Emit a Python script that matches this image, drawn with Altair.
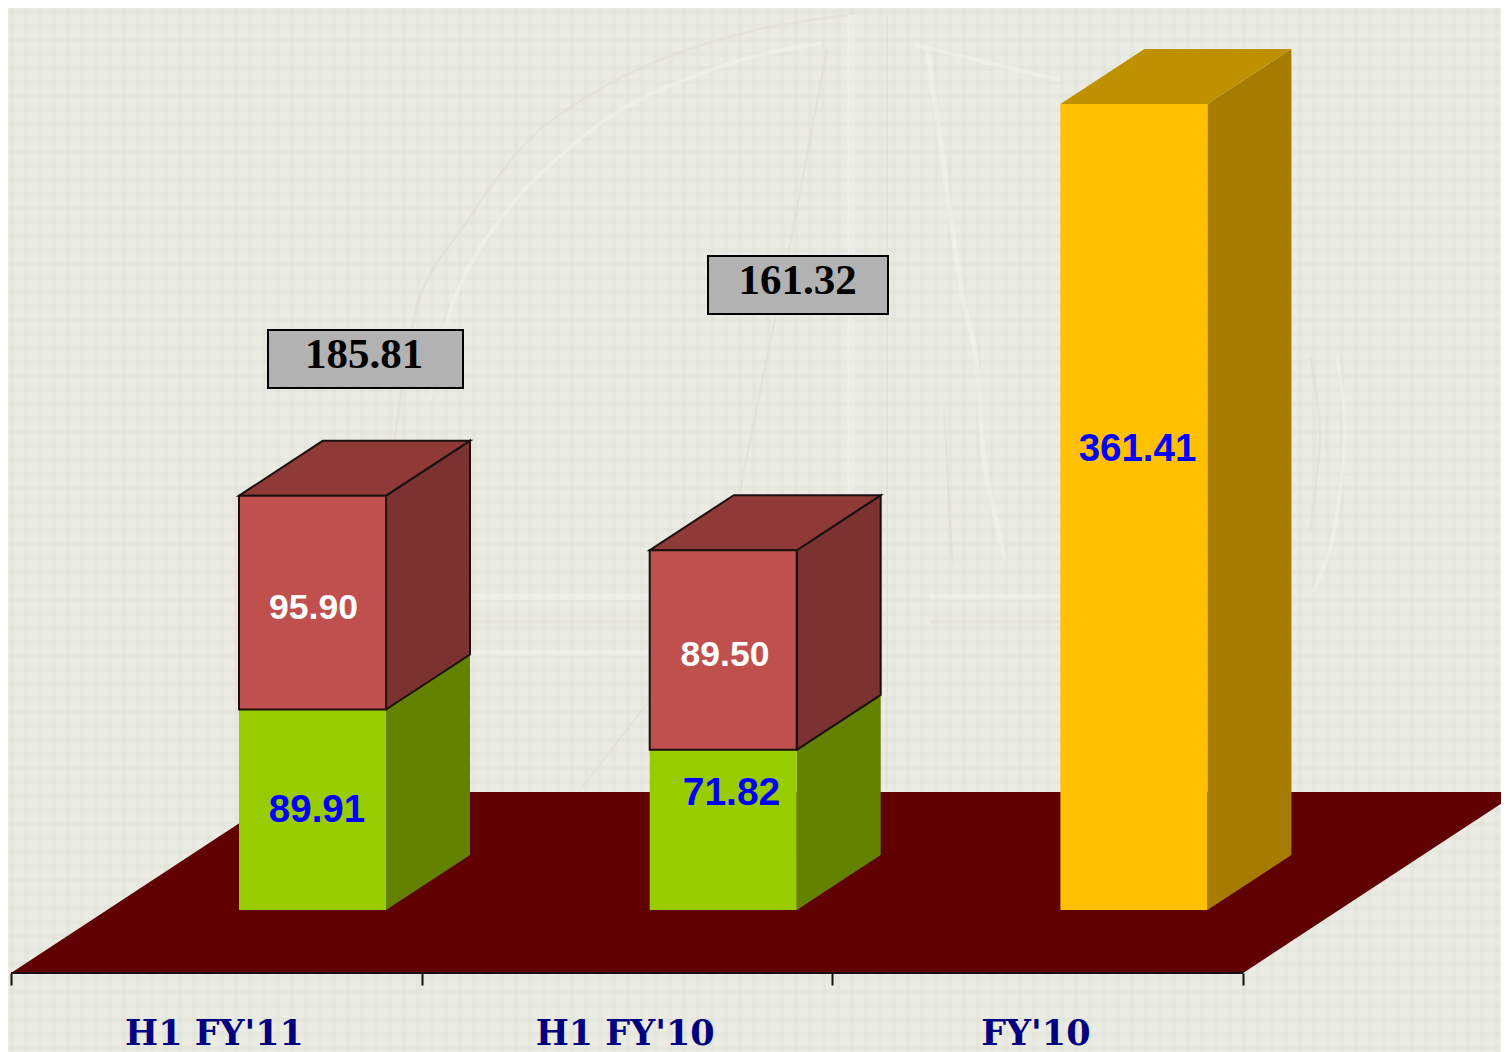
import json
import numpy as np
import pandas as pd
import altair as alt

# ---- chart values -------------------------------------------------
CATEGORIES = ["H1 FY'11", "H1 FY'10", "FY'10"]
LOWER = [89.91, 71.82, 361.41]
UPPER = [95.90, 89.50, 0.0]
TOTALS = ["185.81", "161.32"]
UPPER_TXT = ["95.90", "89.50"]
LOWER_TXT = ["89.91", "71.82", "361.41"]

# ---- layout (page pixels -> scale units) ---------------------------
PX_PER_CAT, PX_PER_VAL = 410.7, 2.23
X0_PX, Y0_PX = 11.0, 910.0
W, H = 1493, 1044


def X(px):
    return (px - X0_PX) / PX_PER_CAT


def Y(py):
    return (Y0_PX - py) / PX_PER_VAL


xs = alt.Scale(domain=[X(8), X(8 + W)], nice=False, zero=False)
ys = alt.Scale(domain=[Y(8 + H), Y(8)], nice=False, zero=False)
BAR_OFF, BAR_W = (239 - X0_PX) / PX_PER_CAT, 147 / PX_PER_CAT
DX, DY = 84 / PX_PER_CAT, 55 / PX_PER_VAL
STROKED = "#1a1010"
NOSTROKE = "transparent"

GREEN = ("#99cc00", "#638200")
RED = ("#c0504d", "#7c3230", "#903a38")
GOLD = ("#ffc000", "#a67c00", "#bf9000")

fronts, sides, tops = [], [], []


def add_box(i, name, lo, hi, front, side, top, stroke):
    x0 = i + BAR_OFF
    x1 = x0 + BAR_W
    fronts.append(dict(x=x0, x2=x1, y=lo, y2=hi, fill=front, stroke=stroke))
    fid = f"{name}{i}"
    sides.append(dict(face=fid, x=x1, y=lo, y2=hi, fill=side, stroke=stroke))
    sides.append(dict(face=fid, x=x1 + DX, y=lo + DY, y2=hi + DY, fill=side, stroke=stroke))
    if top:
        tops.append(dict(face=fid, y=hi, x=x0, x2=x1, fill=top, stroke=stroke))
        tops.append(dict(face=fid, y=hi + DY, x=x0 + DX, x2=x1 + DX, fill=top, stroke=stroke))


for i, (lo, hi) in enumerate(zip(LOWER, UPPER)):
    if hi > 0:
        add_box(i, "g", 0, lo, GREEN[0], GREEN[1], None, NOSTROKE)
        add_box(i, "r", lo, lo + hi, RED[0], RED[1], RED[2], STROKED)
    else:
        add_box(i, "y", 0, lo, GOLD[0], GOLD[1], GOLD[2], NOSTROKE)

X_AXIS = alt.Axis(
    orient="bottom", values=[0, 1, 2, 3], domain=False, grid=False, offset=-(8 + H - 973),
    tickSize=12, tickWidth=2, tickColor="#111111",
    labelExpr=f"{json.dumps(CATEGORIES + [''])}[datum.value]",
    labelOffset=203, labelPadding=31, labelFont="DejaVu Serif", labelFontSize=35,
    labelFontWeight="bold", labelColor="#000080", labelBaseline="top",
    labelOverlap=False, labelBound=False, labelFlush=False, labelAngle=0, zindex=1,
)
x_enc = alt.X("x:Q", scale=xs, title=None, axis=X_AXIS)
y_enc = alt.Y("y:Q", scale=ys, title=None, axis=None)

# paper texture
tex_v = pd.DataFrame({"x": [X(p) for p in np.arange(12, 1509, 14)]})
tex_h = pd.DataFrame({"y": [Y(p) for p in np.arange(12, 1052, 14)]})
texture = (
    alt.Chart(tex_v).mark_rule(color="#dddfd5", strokeWidth=5, opacity=0.35).encode(x=x_enc)
    + alt.Chart(tex_h).mark_rule(color="#dddfd5", strokeWidth=5, opacity=0.35).encode(y=y_enc)
)

# faint watermark strokes
PINK, WHITE = "#e0d9d2", "#f3f6ef"
WATERMARK = [
    (WHITE, 4, [(430, 400), (454, 300), (492, 230), (548, 167), (626, 107), (731, 63), (822, 43)]),
    (PINK, 2.5, [(395, 440), (419, 300), (468, 220), (517, 153), (562, 113), (643, 67), (748, 32), (847, 15)]),
    (WHITE, 7, [(851, 15), (851, 610)]),
    ("#d9d9cd", 1.5, [(887, 15), (887, 790)]),
    (PINK, 2, [(827, 50), (811, 133), (789, 250), (740, 490)]),
    (WHITE, 6, [(470, 597), (650, 597)]),
    (PINK, 3, [(470, 622), (650, 622)]),
    (WHITE, 5, [(470, 653), (650, 653)]),
    (WHITE, 4, [(915, 45), (1060, 80)]),
    (WHITE, 5, [(928, 51), (960, 280), (976, 357), (984, 459), (1005, 560)]),
    (PINK, 2, [(944, 408), (952, 561)]),
    (WHITE, 4, [(1337, 357), (1345, 434), (1333, 536), (1313, 592)]),
    (PINK, 2, [(1310, 357), (1320, 434), (1310, 530)]),
    (PINK, 2, [(580, 790), (650, 700)]),
    (WHITE, 5, [(930, 597), (1060, 597)]),
    (PINK, 3, [(930, 622), (1060, 622)]),
]
wm_rows = []
for k, (c, w, pts) in enumerate(WATERMARK):
    for j, (px, py) in enumerate(pts):
        wm_rows.append(dict(line=k, ord=j, x=X(px), y=Y(py), c=c, w=w))
watermark = alt.Chart(pd.DataFrame(wm_rows)).mark_line(interpolate="cardinal", opacity=0.5).encode(
    x=x_enc, y=y_enc, detail="line:N", order="ord:Q",
    color=alt.Color("c:N", scale=None), strokeWidth=alt.StrokeWidth("w:Q", scale=None),
)

# floor
FLOOR_FRONT, FLOOR_BACK = Y(973), Y(792)
floor_df = pd.DataFrame([
    dict(y=FLOOR_FRONT, x=0.0, x2=3.0),
    dict(y=FLOOR_BACK, x=X(287), x2=X(287) + 3.0),
])
floor = alt.Chart(floor_df).mark_area(orient="horizontal", color="#600000", clip=True).encode(
    x=x_enc, x2="x2:Q", y=y_enc,
)
baseline = alt.Chart(pd.DataFrame({"x": [0, 3], "y": [FLOOR_FRONT, FLOOR_FRONT]})).mark_line(
    color="#111111", strokeWidth=2
).encode(x=x_enc, y=y_enc)

area_common = dict(fill=alt.Fill("fill:N", scale=None), stroke=alt.Stroke("stroke:N", scale=None))
side_layer = alt.Chart(pd.DataFrame(sides)).mark_area(orient="vertical", strokeWidth=2).encode(
    x=x_enc, y=y_enc, y2="y2:Q", detail="face:N", **area_common
)
top_layer = alt.Chart(pd.DataFrame(tops)).mark_area(orient="horizontal", strokeWidth=2).encode(
    x=x_enc, x2="x2:Q", y=y_enc, detail="face:N", **area_common
)
front_layer = alt.Chart(pd.DataFrame(fronts)).mark_rect(strokeWidth=2).encode(
    x=x_enc, x2="x2:Q", y=y_enc, y2="y2:Q", **area_common
)

# total boxes
BOXES = [(268, 463, 330, 388), (708, 888, 256, 314)]
box_df = pd.DataFrame([
    dict(x=X(a), x2=X(b), y=Y(d), y2=Y(c)) for a, b, c, d in BOXES
])
boxes = alt.Chart(box_df).mark_rect(fill="#b2b2b2", stroke="#000000", strokeWidth=2).encode(
    x=x_enc, x2="x2:Q", y=y_enc, y2="y2:Q"
)
tot_df = pd.DataFrame([
    dict(x=X(364), y=Y(355), t=TOTALS[0]),
    dict(x=X(797.5), y=Y(281), t=TOTALS[1]),
])
tot_text = alt.Chart(tot_df).mark_text(
    font="Liberation Serif", fontSize=43, fontWeight="bold", color="#000000", baseline="middle", align="center"
).encode(x=x_enc, y=y_enc, text="t:N")

lab_df = pd.DataFrame([
    dict(x=X(313.5), y=Y(608), t=UPPER_TXT[0], c="#ffffff", s=35.5),
    dict(x=X(725), y=Y(655), t=UPPER_TXT[1], c="#ffffff", s=35.5),
    dict(x=X(317), y=Y(810), t=LOWER_TXT[0], c="#0000ff", s=38.5),
    dict(x=X(731.5), y=Y(793), t=LOWER_TXT[1], c="#0000ff", s=39),
    dict(x=X(1137.5), y=Y(449), t=LOWER_TXT[2], c="#0000ff", s=38.5),
])
val_text = alt.Chart(lab_df).mark_text(
    font="Liberation Sans", fontWeight="bold", baseline="middle", align="center"
).encode(
    x=x_enc, y=y_enc, text="t:N",
    color=alt.Color("c:N", scale=None), size=alt.Size("s:Q", scale=None),
)

chart = alt.layer(
    texture, watermark, floor, baseline,
    side_layer, top_layer, front_layer, boxes, tot_text, val_text,
).properties(
    width=W, height=H, background="#ecece4", padding=0,
    autosize=alt.AutoSizeParams(type="none"),
).configure_view(stroke=None)

chart.save("out.html", embed_options={"renderer": "svg", "actions": False})
